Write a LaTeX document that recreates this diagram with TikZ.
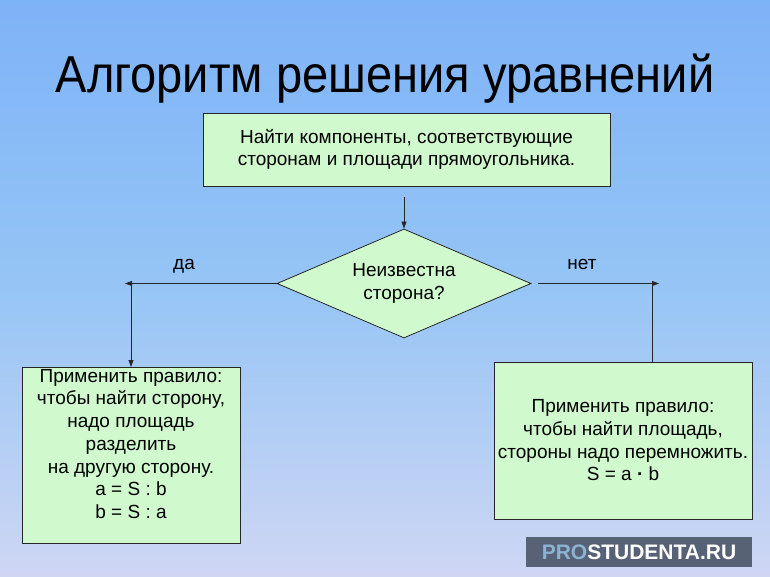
\documentclass[tikz,border=0pt]{standalone}
\usepackage{fontspec}
\setmainfont{Liberation Sans}
\usetikzlibrary{shapes.geometric,arrows.meta}
\definecolor{bgtop}{RGB}{100,160,250}
\definecolor{bgmid}{RGB}{150,197,245}
\definecolor{bglow}{RGB}{218,218,244}
\definecolor{bgbot}{RGB}{255,232,250}
\definecolor{boxfill}{RGB}{208,250,205}
\definecolor{wmfill}{RGB}{88,98,118}
\definecolor{wmpro}{RGB}{140,178,212}
\pgfdeclareverticalshading{bgshade}{100bp}{color(0bp)=(bgbot); color(20bp)=(bglow); color(50bp)=(bgmid); color(100bp)=(bgtop)}
\tikzset{
  txt/.style={font=\fontsize{19}{22.7}\selectfont, align=center},
  box/.style={txt, draw=black!85, line width=0.8pt, fill=boxfill, inner sep=0pt},
  arr/.style={line width=0.8pt, draw=black!85, -{Triangle[length=7pt,width=5pt]}},
  ln/.style={line width=0.8pt, draw=black!85},
}
\begin{document}
\begin{tikzpicture}[x=1pt,y=-1pt]
\useasboundingbox (0,0) rectangle (770,577);
\shade[shading=bgshade] (0,0) rectangle (770,577);

\node[anchor=base, font=\fontsize{52}{60}\selectfont, inner sep=0pt] (title) at (385,93)
  {\scalebox{0.905}[1]{Алгоритм решения уравнений}};

\node[box, minimum width=407pt, minimum height=73pt] (top) at (406.5,149.5)
  {Найти компоненты, соответствующие\\сторонам и площади прямоугольника.};

\node[box, shape=diamond, aspect=2.33, minimum width=254pt, minimum height=109pt] (dia) at (404,283.5)
  {Неизвестна\\сторона?};

\node[box, minimum width=218pt, minimum height=176pt, anchor=north] (lb) at (131,367)
  {};
\node[txt, anchor=north, inner sep=0pt] (lbt) at (131,369)
  {Применить правило:\\чтобы найти сторону,\\надо площадь\\разделить\\на другую сторону.\\a = S : b\\b = S : a};

\node[box, minimum width=258pt, minimum height=157pt] (rb) at (623,440.5)
  {Применить правило:\\чтобы найти площадь,\\стороны надо перемножить.\\S = a {\bfseries ·} b};

\node[txt, anchor=base] (yes) at (184,269) {да};
\node[txt, anchor=base] (no) at (582,269) {нет};

\coordinate (L) at (125,283.5);
\coordinate (R) at (659,283.5);
\coordinate (Rv) at (652,283.5);
\coordinate (T) at (404,197);

\draw[arr] (T) -- (dia.north);
\draw[arr] (dia.west) -- (L);
\draw[arr] (lb.north |- dia.west) -- (lb.north);
\draw[arr] ([xshift=7pt]dia.east) -- (R);
\draw[ln] (Rv) -- (Rv |- rb.north);

\node[fill=wmfill, minimum width=226pt, minimum height=30pt, inner sep=0pt,
      font=\fontsize{21}{24}\selectfont\bfseries] (wm) at (639,552)
  {\textcolor{wmpro}{PRO}\textcolor{white}{STUDENTA.RU}};
\end{tikzpicture}
\end{document}
